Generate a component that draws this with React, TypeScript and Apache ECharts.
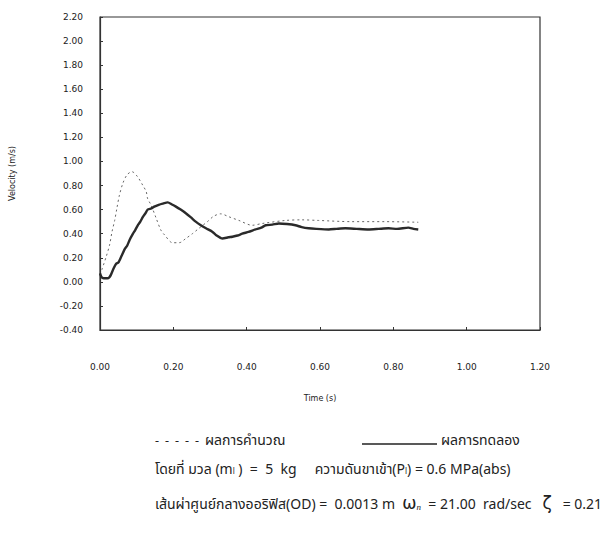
import React, { useEffect, useRef } from "react";
import * as echarts from "echarts";

const xTicks = [0, 0.2, 0.4, 0.6, 0.8, 1.0, 1.2];
const yMin = -0.4;
const yMax = 2.2;

const calcT = [0.005, 0.017, 0.026, 0.033, 0.04, 0.046, 0.053, 0.0625, 0.074, 0.087, 0.102, 0.117, 0.126, 0.13, 0.139, 0.153, 0.166, 0.176, 0.198, 0.216, 0.234, 0.252, 0.27, 0.293, 0.31, 0.329, 0.352, 0.379, 0.415, 0.443, 0.506, 0.551, 0.596, 0.687, 0.778, 0.868];
const calcV = [0.1, 0.21, 0.305, 0.42, 0.51, 0.61, 0.72, 0.82, 0.89, 0.915, 0.875, 0.8, 0.75, 0.69, 0.64, 0.53, 0.43, 0.39, 0.325, 0.325, 0.36, 0.4, 0.445, 0.5, 0.545, 0.565, 0.54, 0.51, 0.47, 0.485, 0.51, 0.515, 0.51, 0.5, 0.5, 0.495];

const expT = [0.0, 0.004, 0.01, 0.02, 0.026, 0.03, 0.037, 0.044, 0.05, 0.058, 0.067, 0.074, 0.081, 0.09, 0.096, 0.103, 0.11, 0.117, 0.124, 0.13, 0.14, 0.148, 0.16, 0.171, 0.185, 0.195, 0.207, 0.22, 0.234, 0.248, 0.261, 0.275, 0.289, 0.307, 0.316, 0.334, 0.35, 0.361, 0.375, 0.388, 0.405, 0.424, 0.44, 0.452, 0.47, 0.488, 0.51, 0.533, 0.55, 0.569, 0.59, 0.624, 0.645, 0.669, 0.7, 0.732, 0.76, 0.787, 0.81, 0.841, 0.855, 0.868];
const expV = [0.07, 0.04, 0.03, 0.03, 0.04, 0.06, 0.11, 0.15, 0.16, 0.21, 0.27, 0.3, 0.35, 0.4, 0.43, 0.47, 0.5, 0.54, 0.57, 0.6, 0.61, 0.625, 0.64, 0.65, 0.66, 0.645, 0.625, 0.6, 0.57, 0.535, 0.5, 0.47, 0.445, 0.415, 0.39, 0.36, 0.37, 0.375, 0.385, 0.4, 0.415, 0.435, 0.45, 0.47, 0.475, 0.485, 0.48, 0.47, 0.455, 0.445, 0.44, 0.435, 0.44, 0.445, 0.44, 0.435, 0.44, 0.445, 0.44, 0.45, 0.44, 0.435];

const legendCalc = "ผลการคำนวณ";
const legendExp = "ผลการทดลอง";
const xName = "Time (s)";
const yName = "Velocity (m/s)";

const thaiFont = "'Noto Sans Thai', 'Noto Serif Thai', Garuda, Loma, Kinnari, 'Liberation Serif', serif";

export default function App() {
  const ref = useRef<HTMLDivElement>(null);
  useEffect(() => {
    document.body.style.margin = "0";
    const chart = echarts.init(ref.current!, undefined, { renderer: "svg" });
    const calcData = calcT.map((t, i) => [t, calcV[i]]);
    const expData = expT.map((t, i) => [t, expV[i]]);
    const axisText = { fontFamily: "DejaVu Sans", fontSize: 9, color: "#222" };
    chart.setOption({
      animation: false,
      backgroundColor: "#fff",
      grid: {
        left: 97,
        top: 17,
        width: 443,
        height: 313,
        show: true,
        borderColor: "#333",
        borderWidth: 1.2,
        backgroundColor: "transparent",
      },
      xAxis: {
        type: "value",
        min: xTicks[0],
        max: xTicks[xTicks.length - 1],
        interval: 0.2,
        name: xName,
        nameLocation: "middle",
        nameGap: 64,
        nameTextStyle: { ...axisText, fontSize: 8 },
        axisLine: { show: true, onZero: false, lineStyle: { color: "#333", width: 1.2 } },
        axisTick: { show: true, inside: true, length: 3, lineStyle: { color: "#333" } },
        splitLine: { show: false },
        axisLabel: { ...axisText, margin: 32, formatter: (v: number) => v.toFixed(2) },
      },
      yAxis: {
        type: "value",
        min: yMin,
        max: yMax,
        interval: 0.2,
        name: yName,
        nameLocation: "middle",
        nameGap: 84,
        nameRotate: 90,
        nameTextStyle: { ...axisText, fontSize: 8 },
        axisLine: { show: true, onZero: false, lineStyle: { color: "#333", width: 1.2 } },
        axisTick: { show: true, inside: true, length: 3, lineStyle: { color: "#333" } },
        splitLine: { show: false },
        axisLabel: { ...axisText, margin: 17, formatter: (v: number) => v.toFixed(2) },
      },
      series: [
        {
          name: legendCalc,
          type: "line",
          data: calcData,
          showSymbol: false,
          smooth: 0.3,
          lineStyle: { color: "#666", width: 1, type: [2, 3] },
        },
        {
          name: legendExp,
          type: "line",
          data: expData,
          showSymbol: false,
          smooth: 0.2,
          lineStyle: { color: "#2a2a2a", width: 2.4 },
        },
      ],
      graphic: [
        { type: "text", left: 155, top: 435, style: { text: "-  -  -  -  -", font: "12px 'Liberation Serif', serif", fill: "#222" } },
        { type: "text", left: 205, top: 433, style: { text: legendCalc, font: `14px ${thaiFont}`, fill: "#222" } },
        { type: "line", shape: { x1: 362, y1: 444, x2: 437, y2: 444 }, style: { stroke: "#222", lineWidth: 1.5 } },
        { type: "text", left: 441, top: 433, style: { text: legendExp, font: `14px ${thaiFont}`, fill: "#222" } },
        {
          type: "text",
          left: 155,
          top: 462,
          style: {
            text: "{a|โดยที่ มวล (m}{s|l}{a| )  =  5  kg     ความดันขาเข้า(P}{s|l}{a|) = 0.6 MPa(abs)}",
            rich: {
              a: { font: `14px ${thaiFont}`, fill: "#222", lineHeight: 18, verticalAlign: "bottom" },
              s: { font: `8px ${thaiFont}`, fill: "#222", lineHeight: 18, verticalAlign: "bottom" },
            },
          },
        },
        {
          type: "text",
          left: 155,
          top: 494,
          style: {
            text: "{a|เส้นผ่าศูนย์กลางออริฟิส(OD) =  0.0013 m  }{b|ω}{s|n}{a|  = 21.00  rad/sec   }{b|ζ}{a|   = 0.21}",
            rich: {
              a: { font: `14px ${thaiFont}`, fill: "#222", lineHeight: 18, verticalAlign: "bottom" },
              b: { font: `17px 'DejaVu Sans', sans-serif`, fill: "#222", lineHeight: 18, verticalAlign: "bottom" },
              s: { font: `italic 9px 'Liberation Serif', serif`, fill: "#222", lineHeight: 18, verticalAlign: "bottom" },
            },
          },
        },
      ],
    });
    return () => chart.dispose();
  }, []);
  return <div ref={ref} style={{ width: 607, height: 538, position: "fixed", left: 0, top: 0 }} />;
}
